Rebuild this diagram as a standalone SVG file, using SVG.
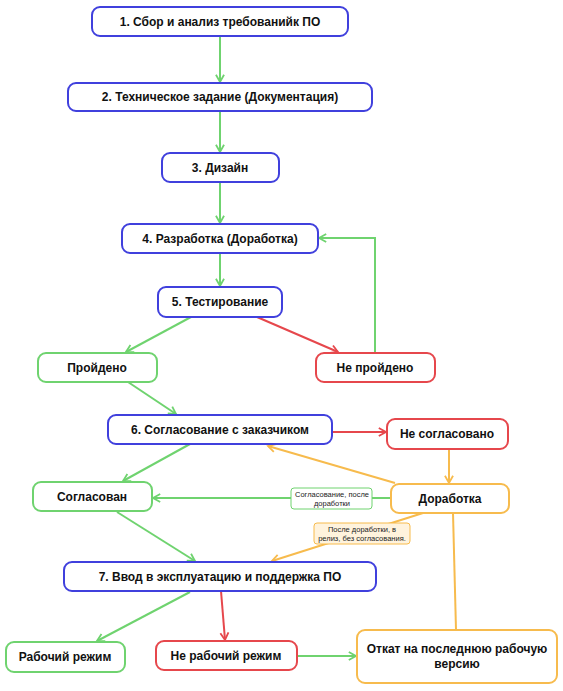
<svg xmlns="http://www.w3.org/2000/svg" width="563" height="691" viewBox="0 0 563 691">
<style>
.n rect{fill:#fff;stroke-width:2}
.b rect{stroke:#4040dd}
.g rect{stroke:#6fd36f}
.r rect{stroke:#e6474c}
.o rect{stroke:#f7bb4d}
.n text{font-family:"Liberation Sans",Arial,sans-serif;font-size:12px;font-weight:bold;fill:#111;text-anchor:middle;dominant-baseline:central}
.c path{fill:none;stroke-width:2}
.cg{stroke:#6fd36f}
.cr{stroke:#e6474c}
.co{stroke:#f7bb4d}
.lbl text{font-family:"Liberation Sans",Arial,sans-serif;font-size:7.5px;fill:#222;text-anchor:middle;dominant-baseline:central}
</style>
<defs>
<marker id="ag" viewBox="0 0 10 10" refX="9" refY="5" markerWidth="9" markerHeight="9" orient="auto" markerUnits="userSpaceOnUse" style="overflow:visible">
<path d="M1,0.5 L9,5 L1,9.5" fill="none" stroke="#6fd36f" stroke-width="2"/>
</marker>
<marker id="ar" viewBox="0 0 10 10" refX="9" refY="5" markerWidth="9" markerHeight="9" orient="auto" markerUnits="userSpaceOnUse" style="overflow:visible">
<path d="M1,0.5 L9,5 L1,9.5" fill="none" stroke="#e6474c" stroke-width="2"/>
</marker>
<marker id="ao" viewBox="0 0 10 10" refX="9" refY="5" markerWidth="9" markerHeight="9" orient="auto" markerUnits="userSpaceOnUse" style="overflow:visible">
<path d="M1,0.5 L9,5 L1,9.5" fill="none" stroke="#f7bb4d" stroke-width="2"/>
</marker>
</defs>
<rect width="563" height="691" fill="#fff"/>
<g id="connectors" class="c">
<path class="cg" d="M220,36 L220,82" marker-end="url(#ag)"/>
<path class="cg" d="M220,111 L220,152" marker-end="url(#ag)"/>
<path class="cg" d="M220,182 L220,223" marker-end="url(#ag)"/>
<path class="cg" d="M220,253 L220,286" marker-end="url(#ag)"/>
<path class="cg" d="M191,317 L126,352" marker-end="url(#ag)"/>
<path class="cr" d="M257,317 L338,352" marker-end="url(#ar)"/>
<path class="cg" d="M375,353 L375,238 L319,238" marker-end="url(#ag)"/>
<path class="cg" d="M128,382 L176,414" marker-end="url(#ag)"/>
<path class="cr" d="M332,432 L386,432" marker-end="url(#ar)"/>
<path class="co" d="M449,449 L449,483" marker-end="url(#ao)"/>
<path class="co" d="M395,483 L268,446" marker-end="url(#ao)"/>
<path class="cg" d="M391,498 L153,498" marker-end="url(#ag)"/>
<path class="cg" d="M190,444 L123,481" marker-end="url(#ag)"/>
<path class="cg" d="M117,512 L195,561" marker-end="url(#ag)"/>
<path class="co" d="M423,513 L272,561" marker-end="url(#ao)"/>
<path class="co" d="M453,513 L456,630"/>
<path class="cg" d="M190,592 L97,641" marker-end="url(#ag)"/>
<path class="cr" d="M221,591 L225,640" marker-end="url(#ar)"/>
<path class="cg" d="M297,656 L356,656" marker-end="url(#ag)"/>
</g>
<g id="label-agreed-after" class="lbl">
<rect x="291" y="488" width="81" height="21" rx="3" fill="#fff" stroke="#6fd36f" stroke-width="1"/>
<text x="332" y="494">Согласование, после</text>
<text x="332" y="503.5">доработки</text>
</g>
<g id="label-release" class="lbl">
<rect x="314" y="523" width="96" height="21" rx="3" fill="#fff3dd" stroke="#f7bb4d" stroke-width="1"/>
<text x="362" y="529">После доработки, в</text>
<text x="362" y="538.5">релиз, без согласования.</text>
</g>
<g id="n1" class="n b"><rect x="92" y="7" width="256" height="29" rx="8"/><text x="220" y="22">1. Сбор и анализ требованийк ПО</text></g>
<g id="n2" class="n b"><rect x="68" y="83" width="304" height="28" rx="8"/><text x="220" y="97">2. Техническое задание (Документация)</text></g>
<g id="n3" class="n b"><rect x="162" y="153" width="117" height="29" rx="8"/><text x="220" y="168">3. Дизайн</text></g>
<g id="n4" class="n b"><rect x="122" y="224" width="196" height="29" rx="8"/><text x="220" y="239">4. Разработка (Доработка)</text></g>
<g id="n5" class="n b"><rect x="158" y="287" width="124" height="30" rx="8"/><text x="220" y="302">5. Тестирование</text></g>
<g id="passed" class="n g"><rect x="38" y="353" width="119" height="29" rx="8"/><text x="97" y="368">Пройдено</text></g>
<g id="failed" class="n r"><rect x="316" y="353" width="119" height="29" rx="8"/><text x="375" y="368">Не пройдено</text></g>
<g id="n6" class="n b"><rect x="108" y="415" width="224" height="29" rx="8"/><text x="220" y="430">6. Согласование с заказчиком</text></g>
<g id="not-agreed" class="n r"><rect x="387" y="419" width="121" height="30" rx="8"/><text x="447" y="434">Не согласовано</text></g>
<g id="rework" class="n o"><rect x="391" y="484" width="118" height="29" rx="8"/><text x="450" y="499">Доработка</text></g>
<g id="agreed" class="n g"><rect x="33" y="482" width="119" height="29" rx="8"/><text x="92" y="497">Согласован</text></g>
<g id="n7" class="n b"><rect x="64" y="562" width="312" height="29" rx="8"/><text x="220" y="577">7. Ввод в эксплуатацию и поддержка ПО</text></g>
<g id="working" class="n g"><rect x="6" y="642" width="119" height="30" rx="8"/><text x="65" y="657">Рабочий режим</text></g>
<g id="not-working" class="n r"><rect x="156" y="641" width="141" height="29" rx="8"/><text x="226" y="656">Не рабочий режим</text></g>
<g id="rollback" class="n o"><rect x="357" y="630" width="200" height="53" rx="8"/><text x="457" y="649">Откат на последнюю рабочую</text><text x="457" y="664">версию</text></g>
</svg>
